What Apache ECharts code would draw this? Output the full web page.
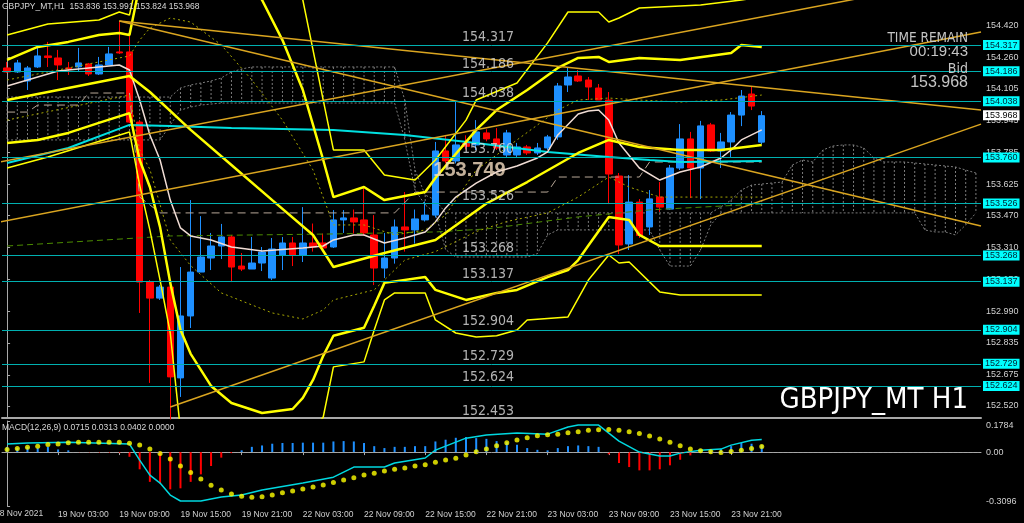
<!DOCTYPE html>
<html><head><meta charset="utf-8">
<script src="https://cdn.jsdelivr.net/npm/echarts@6/dist/echarts.min.js"></script>
<style>html,body{margin:0;padding:0;background:#000;}#c{width:1024px;height:523px;}</style>
</head><body><div id="c"></div>
<script>
// ---------------- data ----------------
const symbolName = 'GBPJPY_MT';
const timeframe = 'H1';
const timeRemain = '00:19:43';
const bidPrice = 153.968;
const markedPrice = 153.749;
const macdParams = '12,26,9';
const macdLast = ['0.0715', '0.0313', '0.0402', '0.0000'];

const tickIdx = [0, 5, 11, 17, 23, 29, 35, 41, 47, 53, 59, 65, 71];
const tickText = ['18 Nov 2021', '19 Nov 03:00', '19 Nov 09:00', '19 Nov 15:00', '19 Nov 21:00', '22 Nov 03:00',
  '22 Nov 09:00', '22 Nov 15:00', '22 Nov 21:00', '23 Nov 03:00', '23 Nov 09:00', '23 Nov 15:00', '23 Nov 21:00'];
const priceTicks = [154.420, 154.260, 154.105, 153.945, 153.785, 153.625, 153.470, 153.310, 153.150, 152.990, 152.835, 152.675, 152.520];
const macdTicks = [0.1784, 0, -0.3096];
const macdTickText = ['0.1784', '0.00', '-0.3096'];

// candles: [open, close, low, high]
const ohlc = [
  [154.206,154.186,154.181,154.236],[154.186,154.231,154.181,154.246],[154.141,154.206,154.096,154.216],
  [154.211,154.266,154.206,154.306],[154.266,154.258,154.211,154.336],[154.256,154.221,154.146,154.296],
  [154.206,154.201,154.171,154.236],[154.211,154.231,154.186,154.306],[154.226,154.176,154.166,154.231],
  [154.176,154.221,154.171,154.261],[154.221,154.276,154.221,154.311],[154.286,154.281,154.276,154.440],
  [154.286,153.936,153.931,154.385],[153.936,153.138,152.984,153.946],[153.138,153.058,152.635,153.148],
  [153.058,153.113,153.049,153.123],[153.113,152.665,152.453,153.118],[152.660,152.969,152.565,153.213],
  [152.969,153.188,152.909,153.547],[153.188,153.263,153.188,153.467],[153.258,153.318,153.198,153.383],
  [153.318,153.363,153.253,153.428],[153.363,153.213,153.138,153.373],[153.218,153.203,153.193,153.283],
  [153.203,153.233,153.203,153.363],[153.233,153.288,153.193,153.313],[153.158,153.303,153.148,153.358],
  [153.273,153.333,153.198,153.363],[153.333,153.273,153.218,153.363],[153.273,153.333,153.238,153.512],
  [153.333,153.313,153.290,153.430],[153.333,153.308,153.300,153.380],[153.313,153.448,153.308,153.497],
  [153.448,153.458,153.383,153.497],[153.458,153.438,153.380,153.500],[153.448,153.383,153.370,153.607],
  [153.373,153.208,153.123,153.472],[153.208,153.258,153.158,153.383],[153.258,153.413,153.230,153.450],
  [153.413,153.398,153.290,153.587],[153.398,153.453,153.330,153.500],[153.448,153.472,153.440,153.540],
  [153.472,153.792,153.460,153.837],[153.792,153.742,153.730,153.872],[153.742,153.822,153.730,154.036],
  [153.830,153.815,153.800,153.870],[153.822,153.887,153.797,153.946],[153.882,153.852,153.840,153.900],
  [153.852,153.807,153.797,153.906],[153.772,153.882,153.762,153.897],[153.772,153.812,153.762,153.832],
  [153.812,153.782,153.772,153.822],[153.782,153.807,153.772,153.832],[153.807,153.862,153.797,153.872],
  [153.862,154.116,153.847,154.131],[154.121,154.161,154.086,154.206],[154.166,154.141,154.136,154.196],
  [154.146,154.111,154.046,154.161],[154.106,154.046,154.046,154.126],[154.046,153.677,153.527,154.086],
  [153.667,153.323,153.278,153.682],[153.328,153.537,153.298,153.672],[153.537,153.370,153.358,153.552],
  [153.413,153.553,153.373,153.597],[153.562,153.512,153.488,153.637],[153.502,153.707,153.498,153.722],
  [153.707,153.852,153.697,153.926],[153.852,153.707,153.557,153.887],[153.707,153.917,153.552,153.942],
  [153.922,153.792,153.787,153.932],[153.792,153.837,153.707,153.882],[153.837,153.971,153.762,153.986],
  [153.971,154.066,153.916,154.096],[154.076,154.016,153.996,154.111],[153.836,153.968,153.824,153.991]
];

// Bollinger bands [bar, price]
const bbMid = [[0,154.046],[12,154.166],[14,154.086],[18,153.897],[22,153.722],[26,153.547],[30,153.373],[32,153.213],[37,153.283],[42,153.348],[47,153.530],[51,153.637],[56,153.782],[59,153.847],[62,153.812],[66,153.797],[70,153.797],[74,153.822]];
const bbUp2 = [[0,154.246],[3,154.311],[6,154.336],[9,154.370],[11,154.380],[12,154.370],[13,154.620],[24,154.620],[25,154.545],[27,154.345],[29,154.096],[30,153.922],[31,153.747],[32,153.562],[35,153.612],[37,153.547],[41,153.587],[42,153.657],[46,153.897],[48,153.996],[51,154.096],[54,154.206],[56,154.256],[58,154.261],[59,154.236],[62,154.256],[66,154.246],[71,154.281],[72,154.321],[74,154.311]];
const bbUp3 = [[0,154.370],[4,154.425],[9,154.445],[11,154.485],[12,154.470],[13,154.700],[28,154.700],[29,154.545],[31,154.046],[32,153.797],[35,153.797],[37,153.672],[40,153.647],[42,153.747],[45,153.946],[46,154.046],[50,154.131],[53,154.331],[55,154.485],[58,154.485],[59,154.435],[60,154.455],[62,154.505],[68,154.520],[72,154.545],[74,154.560]];
const bbLo2 = [[0,153.832],[3,153.847],[6,153.882],[9,153.932],[12,153.981],[13,153.747],[14,153.612],[15,153.412],[16,153.134],[17,152.900],[18,152.780],[20,152.620],[22,152.535],[25,152.485],[28,152.505],[29,152.560],[30,152.650],[31,152.770],[32,152.870],[35,152.910],[36,153.020],[37,153.134],[41,153.163],[42,153.099],[45,153.049],[48,153.084],[50,153.099],[53,153.163],[55,153.198],[56,153.248],[57,153.320],[59,153.463],[61,153.448],[62,153.373],[64,153.318],[74,153.318]];
const bbLo3 = [[0,153.707],[4,153.762],[12,153.887],[13,153.622],[14,153.398],[15,153.148],[16,152.884],[17,152.400],[30,152.400],[31,152.465],[32,152.715],[35,152.740],[36,152.899],[37,153.049],[38,153.084],[41,153.084],[42,152.949],[44,152.884],[46,152.864],[48,152.870],[50,152.899],[51,152.949],[55,152.964],[57,153.148],[59,153.273],[60,153.233],[61,153.238],[64,153.089],[66,153.074],[74,153.074]];
const bbUp1 = [[0,154.146],[12,154.266],[13,154.345],[14,154.405],[16,154.455],[18,154.435],[21,154.321],[24,154.146],[27,153.946],[30,153.697],[32,153.423],[35,153.423],[38,153.373],[41,153.398],[43,153.473],[46,153.697],[50,153.847],[54,153.996],[56,154.046],[59,154.056],[62,154.046],[66,154.036],[70,154.046],[74,154.071]];
const bbLo1 = [[0,153.946],[12,154.071],[13,153.797],[14,153.700],[16,153.348],[18,153.220],[21,153.084],[26,152.984],[29,152.954],[31,152.999],[32,153.049],[36,153.099],[39,153.248],[42,153.290],[46,153.390],[49,153.440],[53,153.483],[56,153.562],[59,153.662],[61,153.612],[64,153.562],[74,153.562]];

// moving averages and ichimoku lines [bar, price]
const maLong = [[0,153.732],[6,153.807],[12,153.922],[16,153.917],[22,153.907],[32,153.897],[39,153.872],[46,153.832],[53,153.787],[59,153.762],[63,153.747],[66,153.737],[74,153.742]];
const maShort = [[0,154.116],[3,154.161],[5,154.191],[8,154.206],[11,154.221],[12,154.196],[13,154.046],[14,153.872],[15,153.747],[16,153.547],[17,153.408],[18,153.368],[20,153.348],[22,153.313],[25,153.293],[29,153.308],[31,153.318],[32,153.348],[34,153.373],[35,153.373],[36,153.353],[37,153.333],[39,153.358],[41,153.388],[42,153.438],[43,153.508],[44,153.562],[46,153.632],[48,153.687],[50,153.717],[52,153.757],[53,153.787],[54,153.872],[56,153.976],[57,153.991],[58,153.996],[59,153.946],[60,153.832],[62,153.707],[64,153.647],[66,153.687],[68,153.712],[70,153.757],[71,153.797],[72,153.847],[74,153.897]];
const greenLine = [[0,153.318],[16,153.368],[32,153.378],[42,153.388],[47,153.403],[56,153.463],[63,153.498],[74,153.528]];
const kijun = [[0,153.986],[2,153.986],[3,154.021],[7,154.021],[8,154.081],[12,154.081],[13,153.562],[14,153.523],[15,153.483],[38,153.483],[40,153.587],[53,153.587],[54,153.662],[62,153.662],[63,153.737],[74,153.737]];
const spanA = [154.061,154.061,154.061,154.061,154.061,154.061,154.061,154.061,154.061,154.061,154.061,154.061,154.061,154.061,154.061,154.061,154.061,
  154.106,154.121,154.131,154.141,154.156,154.186,154.201,
  154.211,154.211,154.211,154.211,154.211,154.211,154.211,154.211,154.211,154.211,154.211,154.211,154.211,154.211,154.211,
  154.046,153.697,153.572,153.547,
  153.483,153.483,153.483,153.483,153.483,153.483,153.483,153.483,153.483,153.483,153.483,153.483,153.483,153.483,153.483,153.483,153.483,153.483,153.483,153.483,153.483,153.483,153.483,153.483,153.483,153.483,153.483,
  153.513,153.547,153.597,153.622,153.627,153.632,153.637,153.722,153.747,153.737,153.797,153.817,153.822,153.822,153.807,153.757,153.737,153.737,153.737,153.732,153.727,153.722,153.717,153.712,153.697,153.682];
const spanB = [153.847,153.847,153.847,153.847,153.847,153.847,153.847,153.847,153.847,153.847,153.847,153.847,153.847,153.847,153.847,153.847,
  153.922,153.996,154.011,154.021,154.026,
  154.031,154.031,154.031,154.031,154.031,154.031,154.031,154.031,154.031,154.031,154.031,154.031,154.031,154.031,154.031,154.031,154.031,154.031,
  153.847,153.597,153.523,153.483,153.300,
  153.263,153.263,153.263,153.263,153.263,153.263,153.263,153.263,
  153.280,153.373,
  153.398,153.398,153.398,153.398,153.398,153.398,153.398,153.398,153.398,153.398,
  153.298,153.218,153.218,153.218,153.298,153.423,
  153.483,153.483,153.483,153.483,153.483,153.483,153.483,153.483,153.483,153.483,153.483,153.483,153.483,153.483,153.483,153.483,153.483,153.483,153.483,153.483,
  153.398,153.388,153.388,153.373,153.423,153.483];

// trendlines [bar, price] endpoints
const trendA = [[11.0,154.440],[95.5,153.996]];
const trendB = [[11.0,154.440],[95.5,153.418]];
const trendC = [[16.0,152.515],[95.5,153.926]];
const trendD = [[-0.7,153.438],[95.5,154.385]];
const trendE = [[-0.7,153.737],[95.5,154.669]];

// horizontal levels
const levels = [154.317,154.186,154.038,153.760,153.526,153.268,153.137,152.904,152.729,152.624];
const levelNotes = [154.317,154.186,154.038,153.760,153.526,153.268,153.137,152.904,152.729,152.624,152.453];

// MACD
const macdLine = [[0,0.046],[2,0.052],[6,0.057],[12,0.046],[13,-0.046],[14,-0.132],[15,-0.178],[16,-0.247],[17,-0.281],[19,-0.281],[21,-0.258],[23,-0.247],[25,-0.218],[29,-0.178],[32,-0.144],[34,-0.086],[37,-0.086],[38,-0.063],[41,-0.034],[42,0.011],[45,0.080],[47,0.098],[50,0.109],[53,0.103],[55,0.144],[56,0.155],[58,0.155],[60,0.063],[62,0.000],[64,-0.023],[65,-0.023],[66,-0.006],[68,0.011],[70,0.017],[71,0.040],[73,0.068],[74,0.0715]];
const macdSignal = [0.015,0.021,0.027,0.034,0.044,0.046,0.053,0.056,0.056,0.056,0.056,0.056,
  0.050,0.040,0.017,-0.008,-0.040,-0.080,-0.117,-0.155,-0.191,-0.218,-0.241,
  -0.254,-0.260,-0.256,-0.247,-0.233,-0.224,-0.212,-0.201,-0.189,-0.174,-0.161,
  -0.147,-0.132,-0.121,-0.109,-0.098,-0.092,-0.080,-0.073,-0.059,-0.046,-0.036,
  -0.017,0.002,0.017,0.036,0.053,0.069,0.082,0.094,0.099,0.103,0.111,
  0.117,0.125,0.128,0.130,0.125,0.117,0.107,0.092,0.075,0.056,0.036,
  0.017,0.008,0.002,-0.002,0.004,0.011,0.021,0.0313];
const macdHist = [0.030,0.023,0.030,0.023,0.030,0.015,0.010,-0.003,-0.003,-0.004,-0.004,-0.005,
  -0.027,-0.099,-0.171,-0.180,-0.214,-0.208,-0.171,-0.128,-0.080,-0.032,-0.006,
  0.010,0.030,0.038,0.048,0.052,0.052,0.054,0.054,0.054,0.061,0.063,0.061,0.052,0.034,0.023,0.030,0.030,0.034,0.034,
  0.061,0.071,0.082,0.086,0.080,0.076,0.063,0.057,0.042,0.023,0.013,0.010,0.023,0.034,0.038,0.034,0.030,
  -0.013,-0.063,-0.086,-0.105,-0.105,-0.099,-0.076,-0.044,-0.019,
  0.013,0.010,0.019,0.034,0.052,0.048,0.0402];

// ---------------- chart ----------------
const N_SLOTS = 96;
const NOTE_BAR = 44.6;
const MARK_BAR = 41.8;
const cats = Array.from({length: N_SLOTS}, (_, i) => String(i));
const tickMap = new Map(tickIdx.slice(1).map((v, i) => [v, tickText[i + 1]]));
const FONT = 'Liberation Sans';
const NARROW = '"Liberation Sans Narrow", "DejaVu Sans Condensed", sans-serif';
const last = ohlc[ohlc.length - 1];
const header = `${symbolName},${timeframe}  ${last[0].toFixed(3)} ${last[3].toFixed(3)} ${last[2].toFixed(3)} ${last[1].toFixed(3)}`;

function ln(data, color, width, type, z, xi) {
  return {type: 'line', xAxisIndex: xi === undefined ? 1 : xi, yAxisIndex: 0, data, showSymbol: false, symbol: 'none',
    lineStyle: {color, width, type: type || 'solid'}, z, silent: true, clip: true, animation: false};
}
function boxLabel(v, bg, fg) {
  return {show: true, position: 'end', distance: 2, formatter: () => v.toFixed(3),
    backgroundColor: bg, color: fg, fontSize: 9, fontFamily: FONT, padding: [1, 2, 0, 2]};
}

const chart = echarts.init(document.getElementById('c'), null, {width: 1024, height: 523});
chart.setOption({
  backgroundColor: '#000000',
  animation: false,
  textStyle: {fontFamily: FONT},
  grid: [
    {left: 2, top: 0, width: 979, height: 418},
    {left: 2, top: 421, width: 979, height: 85}
  ],
  xAxis: [
    {type: 'category', gridIndex: 0, data: cats, boundaryGap: true,
      axisLine: {show: true, lineStyle: {color: '#a8a8a8', width: 2}}, axisTick: {show: false}, axisLabel: {show: false}},
    {type: 'value', gridIndex: 0, min: -0.5, max: N_SLOTS - 0.5, show: false},
    {type: 'category', gridIndex: 1, data: cats, boundaryGap: true,
      axisLine: {show: true, lineStyle: {color: '#a8a8a8', width: 1}},
      axisTick: {show: true, alignWithLabel: true, interval: (i) => tickMap.has(i), length: 3, lineStyle: {color: '#a8a8a8'}},
      axisLabel: {interval: (i) => tickMap.has(i), formatter: (v, i) => tickMap.get(i) || '', align: 'left',
        color: '#d0d0d0', fontSize: 8.5, margin: 4, fontFamily: FONT}},
    {type: 'value', gridIndex: 1, min: -0.5, max: N_SLOTS - 0.5, show: false}
  ],
  yAxis: [
    {type: 'value', gridIndex: 0, position: 'right', min: 152.460, max: 154.545,
      axisLine: {show: true, lineStyle: {color: '#a8a8a8'}},
      axisTick: {show: true, length: 3, customValues: priceTicks, lineStyle: {color: '#a8a8a8'}},
      axisLabel: {customValues: priceTicks, formatter: (v) => v.toFixed(3), color: '#d0d0d0', fontSize: 9, margin: 5, fontFamily: FONT},
      splitLine: {show: false}},
    {type: 'value', gridIndex: 1, position: 'right', min: -0.3096, max: 0.1784,
      axisLine: {show: true, lineStyle: {color: '#a8a8a8'}},
      axisTick: {show: true, length: 3, customValues: macdTicks, lineStyle: {color: '#a8a8a8'}},
      axisLabel: {customValues: macdTicks, fontSize: 9, color: '#d0d0d0', margin: 5, fontFamily: FONT,
        formatter: (v) => {
          let k = macdTicks.findIndex(t => Math.abs(t - v) < 1e-6);
          if (k < 0) return '';
          return '{t' + k + '|' + macdTickText[k] + '}';
        },
        rich: {t0: {padding: [10, 0, 0, 0], fontSize: 9, color: '#d0d0d0'}, t1: {fontSize: 9, color: '#d0d0d0'}, t2: {padding: [0, 0, 8, 0], fontSize: 9, color: '#d0d0d0'}}},
      splitLine: {show: false}}
  ],
  series: [
    // ichimoku cloud hatch
    {type: 'custom', xAxisIndex: 0, yAxisIndex: 0, silent: true, z: 1,
      data: spanA.map((a, i) => [i, a, spanB[i]]), encode: {x: 0, y: [1, 2]},
      renderItem: (params, api) => {
        const p1 = api.coord([api.value(0), api.value(1)]);
        const p2 = api.coord([api.value(0), api.value(2)]);
        return {type: 'line', shape: {x1: p1[0], y1: p1[1], x2: p2[0], y2: p2[1]},
          style: {stroke: '#7c7c7c', lineWidth: 1, lineDash: [2, 2]}};
      }},
    ln(spanA, '#7c7c7c', 1, [2, 2], 1, 0),
    ln(spanB, '#7c7c7c', 1, [2, 2], 1, 0),
    // candles
    {type: 'candlestick', xAxisIndex: 0, yAxisIndex: 0, data: ohlc, barWidth: 7, z: 2, silent: true,
      itemStyle: {color: '#1e90ff', color0: '#ff0000', borderColor: '#1e90ff', borderColor0: '#ff0000', borderWidth: 1}},
    // indicators
    ln(greenLine, '#4c8c00', 1, [6, 4], 3),
    ln(kijun, '#b8a898', 1, [8, 5], 3),
    ln(maLong, '#00e0e0', 2, 'solid', 3),
    ln(maShort, '#f0dcd4', 1.5, 'solid', 3),
    ln(bbUp1, '#a8a800', 1, [2, 3], 3),
    ln(bbLo1, '#a8a800', 1, [2, 3], 3),
    ln(bbUp3, '#ffff00', 1.5, 'solid', 3),
    ln(bbLo3, '#ffff00', 1.5, 'solid', 3),
    ln(bbUp2, '#ffff00', 2.5, 'solid', 3),
    ln(bbLo2, '#ffff00', 2.5, 'solid', 3),
    ln(bbMid, '#ffff00', 2.5, 'solid', 3),
    // trendlines
    ln(trendA, '#daa520', 1.5, 'solid', 4),
    ln(trendB, '#daa520', 1.5, 'solid', 4),
    ln(trendC, '#daa520', 1.5, 'solid', 4),
    ln(trendD, '#daa520', 1.5, 'solid', 4),
    ln(trendE, '#daa520', 1.5, 'solid', 4),
    // horizontal levels + axis boxes
    {type: 'line', xAxisIndex: 1, yAxisIndex: 0, data: [], z: 4, silent: true,
      markLine: {silent: true, symbol: ['none', 'none'], animation: false,
        data: levels.map(v => ({yAxis: v, lineStyle: {color: '#00b0b0', width: 1, type: 'solid'}, label: boxLabel(v, '#00ffff', '#002030')}))
          .concat([{yAxis: bidPrice, lineStyle: {color: 'rgba(0,0,0,0)', width: 0}, label: boxLabel(bidPrice, '#ffffff', '#000000')}])}},
    // level notes
    {type: 'scatter', xAxisIndex: 1, yAxisIndex: 0, z: 5, silent: true, clip: false, symbolSize: 0,
      itemStyle: {color: 'rgba(0,0,0,0)'},
      data: levelNotes.map(v => [NOTE_BAR, v]),
      label: {show: true, position: 'right', distance: 0, offset: [0, -8], formatter: (p) => p.value[1].toFixed(3),
        color: '#dedede', fontSize: 14, fontFamily: NARROW}},
    {type: 'scatter', xAxisIndex: 1, yAxisIndex: 0, z: 5, silent: true, clip: false, symbolSize: 0,
      itemStyle: {color: 'rgba(0,0,0,0)'},
      data: [[MARK_BAR, markedPrice]],
      label: {show: true, position: 'right', distance: 0, offset: [0, 11], formatter: (p) => p.value[1].toFixed(3),
        color: '#f4dcc0', fontSize: 20, fontWeight: 'bold', fontFamily: FONT}},
    // MACD
    {type: 'bar', xAxisIndex: 2, yAxisIndex: 1, data: macdHist, barWidth: 2, silent: true, z: 2,
      itemStyle: {color: (p) => p.value >= 0 ? '#1e90ff' : '#ff0000'},
      markLine: {silent: true, symbol: ['none', 'none'], label: {show: false}, animation: false,
        lineStyle: {color: '#a0a0a0', width: 1, type: [2, 3]}, data: [{yAxis: 0}]}},
    {type: 'line', xAxisIndex: 3, yAxisIndex: 1, data: macdLine, showSymbol: false, symbol: 'none', silent: true, z: 3,
      lineStyle: {color: '#00d8e0', width: 1.5}},
    {type: 'scatter', xAxisIndex: 2, yAxisIndex: 1, data: macdSignal, symbolSize: 5, silent: true, z: 4,
      itemStyle: {color: '#ffff00'}}
  ],
  graphic: [
    {type: 'text', left: 2, top: 2, z: 10, style: {text: header, fill: '#d8d8d8', fontSize: 8.5, fontFamily: FONT}},
    {type: 'text', left: 2, top: 423, z: 10, style: {text: `MACD(${macdParams}) ${macdLast.join(' ')}`, fill: '#d8d8d8', fontSize: 8.5, fontFamily: FONT}},
    {type: 'text', left: -5, top: 509, z: 10, style: {text: tickText[0], fill: '#d0d0d0', fontSize: 8.5, fontFamily: FONT}},
    {type: 'text', right: 56, top: 31, z: 10, style: {text: 'TIME REMAIN', fill: '#c4c4c4', fontSize: 13.5, fontFamily: NARROW}},
    {type: 'text', right: 56, top: 44, z: 10, style: {text: timeRemain, fill: '#c4c4c4', fontSize: 15, fontFamily: FONT}},
    {type: 'text', right: 56, top: 62, z: 10, style: {text: 'Bid', fill: '#c4c4c4', fontSize: 14, fontFamily: NARROW}},
    {type: 'text', right: 56, top: 75, z: 10, style: {text: bidPrice.toFixed(3), fill: '#c4c4c4', fontSize: 16, fontFamily: FONT}},
    {type: 'text', right: 56, top: 386, z: 10, style: {text: `${symbolName} ${timeframe}`, fill: '#ffffff', fontSize: 29, fontFamily: NARROW}}
  ]
});
</script>
</body></html>
